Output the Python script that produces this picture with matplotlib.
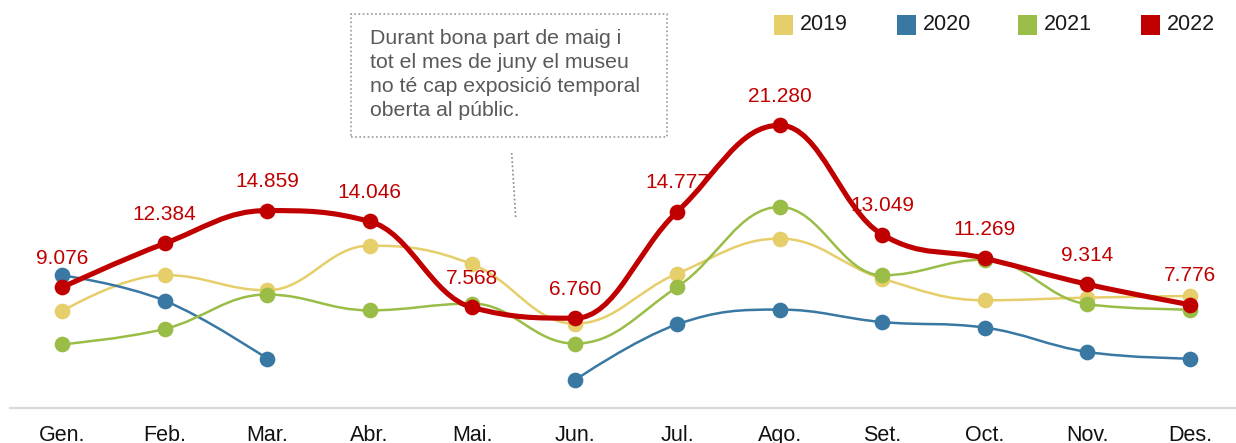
import matplotlib
matplotlib.use("Agg")
import matplotlib.pyplot as plt
from matplotlib.path import Path
from matplotlib.patches import PathPatch, Rectangle
from matplotlib.lines import Line2D

plt.rcParams['font.family'] = ['Liberation Sans', 'DejaVu Sans']

months = ["Gen.", "Feb.", "Mar.", "Abr.", "Mai.", "Jun.",
          "Jul.", "Ago.", "Set.", "Oct.", "Nov.", "Des."]
years = ["2019", "2020", "2021", "2022"]

# visitors (thousands)
v2019 = [7.28, 10.01, 8.86, 12.22, 10.82, 6.35, 10.12, 12.75, 9.74, 8.11, 8.31, 8.43]
v2020 = [9.99, 8.08, 3.72, None, None, 2.09, 6.30, 7.41, 6.47, 6.05, 4.22, 3.72]
v2021 = [4.79, 5.95, 8.54, 7.35, 7.86, 4.85, 9.11, 15.13, 9.99, 11.17, 7.81, 7.41]
v2022 = [9.076, 12.384, 14.859, 14.046, 7.568, 6.760, 14.777, 21.280, 13.049, 11.269, 9.314, 7.776]
labels2022 = ["9.076", "12.384", "14.859", "14.046", "7.568", "6.760",
              "14.777", "21.280", "13.049", "11.269", "9.314", "7.776"]

series = [v2019, v2020, v2021, v2022]
colors = ["#E6CE6A", "#3A78A4", "#99BD47", "#C00000"]
widths = [1.8, 1.8, 1.8, 3.7]

note = ("Durant bona part de maig i\ntot el mes de juny el museu\n"
        "no té cap exposició temporal\noberta al públic.")

W, H = 1236, 443


def spline_path(xs, ys, smoothing=1.5):
    """Highcharts-style spline through the points, returned as a Path."""
    n = len(xs)
    verts = [(xs[0], ys[0])]
    codes = [Path.MOVETO]
    ctrl = []
    for i in range(n):
        if 0 < i < n - 1:
            px, py = xs[i], ys[i]
            lx, ly = xs[i - 1], ys[i - 1]
            nx, ny = xs[i + 1], ys[i + 1]
            d = smoothing + 1
            lcx = (smoothing * px + lx) / d
            lcy = (smoothing * py + ly) / d
            rcx = (smoothing * px + nx) / d
            rcy = (smoothing * py + ny) / d
            corr = 0
            if rcx != lcx:
                corr = (rcy - lcy) * (rcx - px) / (rcx - lcx) + py - rcy
            lcy += corr
            rcy += corr
            if lcy > ly and lcy > py:
                lcy = max(ly, py)
                rcy = 2 * py - lcy
            elif lcy < ly and lcy < py:
                lcy = min(ly, py)
                rcy = 2 * py - lcy
            if rcy > ny and rcy > py:
                rcy = max(ny, py)
                lcy = 2 * py - rcy
            elif rcy < ny and rcy < py:
                rcy = min(ny, py)
                lcy = 2 * py - rcy
            ctrl.append(((lcx, lcy), (rcx, rcy)))
        else:
            ctrl.append(((xs[i], ys[i]), (xs[i], ys[i])))
    for i in range(1, n):
        verts += [ctrl[i - 1][1], ctrl[i][0], (xs[i], ys[i])]
        codes += [Path.CURVE4] * 3
    return Path(verts, codes)


fig = plt.figure(figsize=(W / 100, H / 100), dpi=100)
ax = fig.add_axes([10 / W, (H - 408) / H, 1226 / W, 408 / H])

for k, vals in enumerate(series):
    # split into runs of non-missing values
    runs, cur = [], []
    for i, v in enumerate(vals):
        if v is None:
            if cur:
                runs.append(cur)
            cur = []
        else:
            cur.append(i)
    if cur:
        runs.append(cur)
    for run in runs:
        xs = run
        ys = [vals[i] for i in run]
        if len(run) > 1:
            ax.add_patch(PathPatch(spline_path(xs, ys), fill=False, edgecolor=colors[k],
                                   lw=widths[k], zorder=2 + k * 2, capstyle='round',
                                   joinstyle='round'))
        ax.plot(xs, ys, ls='none', marker='o', ms=11.3, color=colors[k],
                mec='none', zorder=3 + k * 2)

for i, v in enumerate(v2022):
    ax.annotate(labels2022[i], (i, v), xytext=(0, 21), textcoords='offset points',
                ha='center', va='center', fontsize=15, color="#C00000", zorder=20)

ax.set_xlim(-0.507, 11.449)
ax.set_ylim(0, 408 / 13.285)
ax.set_xticks(range(len(months)))
ax.set_xticklabels(months, fontsize=15.5, color="#111111")
ax.tick_params(axis='x', length=0, pad=12)
ax.set_yticks([])
for s in ["top", "left", "right"]:
    ax.spines[s].set_visible(False)
ax.spines["bottom"].set_color("#D9D9D9")
ax.spines["bottom"].set_linewidth(1.6)

# legend
leg_sq = [774, 897, 1018, 1141]
for k, y in enumerate(years):
    fig.add_artist(Rectangle((leg_sq[k] / W, 1 - 34.5 / H), 19 / W, 20 / H,
                             transform=fig.transFigure, color=colors[k], lw=0))
    fig.text((leg_sq[k] + 26) / W, 1 - 24.5 / H, y, fontsize=15.5,
             va='center', ha='left', color="#1A1A1A")

# note box
fig.add_artist(Rectangle((351 / W, 1 - 137 / H), 316 / W, 123 / H,
                         transform=fig.transFigure, fill=False, edgecolor="#999999",
                         lw=1.2, ls=(0, (1, 1.5))))
fig.text(370 / W, 1 - 29 / H, note, fontsize=15.3, color="#595959",
         va='top', ha='left', linespacing=1.33)
fig.add_artist(Line2D([511.7 / W, 515.7 / W], [1 - 153 / H, 1 - 218 / H],
                      transform=fig.transFigure, color="#888888", lw=1.2,
                      ls=(0, (1, 1.5))))

fig.savefig("out.png", dpi=100)
